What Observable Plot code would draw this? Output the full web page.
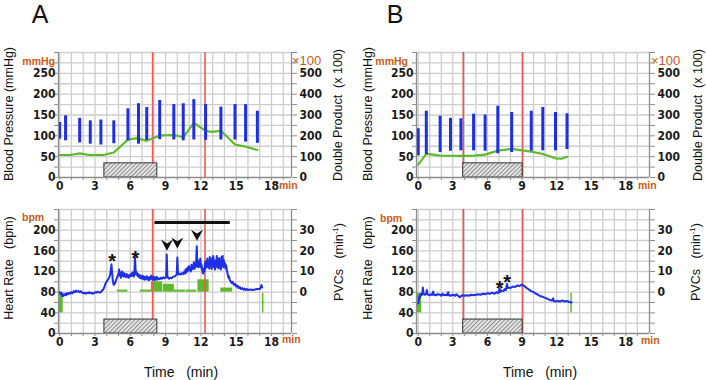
<!DOCTYPE html>
<html><head><meta charset="utf-8">
<script src="https://cdn.jsdelivr.net/npm/d3@7"></script>
<script src="https://cdn.jsdelivr.net/npm/@observablehq/plot@0.6"></script>
<style>
body{margin:0;background:#fff;}
#root{position:relative;width:706px;height:380px;overflow:hidden;background:#fff;font-family:"Liberation Sans",Arial,sans-serif;color:#111;}
.t{position:absolute;white-space:nowrap;line-height:1;}
.c{transform:translate(-50%,-50%);}
.r{transform:translate(-100%,-50%);}
.l{transform:translate(0,-50%);}
.rot{transform:translate(-50%,-50%) rotate(-90deg);font-size:12.5px;}
.unit{color:#cc5a14;font-weight:bold;font-size:10.5px;}
sup{font-size:8px;vertical-align:5px;}
</style></head>
<body>
<svg width="0" height="0" style="position:absolute"><defs>
<pattern id="hatch" patternUnits="userSpaceOnUse" width="3" height="3" patternTransform="rotate(45)">
<rect width="3" height="3" fill="#e4e4e4"/><line x1="0" y1="0" x2="0" y2="3" stroke="#555" stroke-width="1.2"/>
</pattern></defs></svg>
<div id="root">
  <div class="t c" style="left:40px;top:14px;font-size:25px;">A</div>
  <div class="t c" style="left:395px;top:14px;font-size:25px;">B</div>
  <div class="t rot" style="left:8.5px;top:114px;">Blood Pressure (mmHg)</div>
  <div class="t rot" style="left:368px;top:114px;">Blood Pressure (mmHg)</div>
  <div class="t rot" style="left:338px;top:115px;">Double Product&nbsp; (x 100)</div>
  <div class="t rot" style="left:698px;top:115px;">Double Product&nbsp; (x 100)</div>
  <div class="t rot" style="left:8.5px;top:268px;">Heart Rate&nbsp;&nbsp; (bpm)</div>
  <div class="t rot" style="left:368px;top:268px;">Heart Rate&nbsp;&nbsp; (bpm)</div>
  <div class="t rot" style="left:339px;top:262px;">PVCs&nbsp;&nbsp; (min<sup>-1</sup>)</div>
  <div class="t rot" style="left:696px;top:262px;">PVCs&nbsp;&nbsp; (min<sup>-1</sup>)</div>
  <div class="t r unit" style="left:55px;top:60.5px;">mmHg</div>
  <div class="t r unit" style="left:408px;top:60.5px;">mmHg</div>
  <div class="t l" style="left:292px;top:59.5px;color:#cc5a14;font-size:13px;">×100</div>
  <div class="t l" style="left:651px;top:59.5px;color:#cc5a14;font-size:13px;">×100</div>
  <div class="t l unit" style="left:22px;top:216.5px;">bpm</div>
  <div class="t l unit" style="left:380px;top:217.5px;">bpm</div>
  <div class="t l unit" style="left:279px;top:184.5px;">min</div>
  <div class="t l unit" style="left:638px;top:184.5px;">min</div>
  <div class="t l unit" style="left:282px;top:339px;">min</div>
  <div class="t l unit" style="left:641px;top:340px;">min</div>
  <div class="t c" style="left:181px;top:372px;font-size:14px;">Time&nbsp;&nbsp; (min)</div>
  <div class="t c" style="left:540px;top:372px;font-size:14px;">Time&nbsp;&nbsp; (min)</div>
</div>
<script>
// ---------------- DATA ----------------
// Panel A: blood pressure bars (min, systolic, diastolic)
const bpTimeA = [0, 0.5, 1.7, 2.6, 3.5, 4.6, 5.8, 6.7, 7.4, 8.5, 9.7, 10.5, 11.4, 12.4, 13.7, 14.9, 15.8, 16.8];
const sbpA    = [132, 148, 142, 136, 138, 136, 165, 177, 168, 185, 175, 177, 187, 175, 169, 175, 175, 159];
const dbpA    = [92, 88, 83, 80, 78, 81, 88, 80, 89, 91, 90, 88, 90, 89, 90, 90, 85, 82];
// Panel A: double product (x100)
const dpTimeA = [0, 0.9, 1.7, 2.5, 3.7, 4.6, 5.8, 6.6, 7.4, 8.5, 9.7, 10.5, 11.4, 12.4, 12.9, 13.7, 14.9, 15.8, 16.8];
const dpA     = [108, 108, 116, 108, 108, 120, 182, 189, 176, 202, 204, 193, 262, 224, 219, 224, 158, 148, 132];
// Panel B
const bpTimeB = [0, 0.7, 1.9, 2.8, 3.7, 4.8, 5.8, 6.9, 8.1, 9.8, 10.8, 11.9, 12.9];
const sbpB    = [117, 159, 147, 142, 141, 152, 150, 171, 156, 159, 168, 156, 153];
const dbpB    = [52, 55, 60, 63, 64, 64, 63, 57, 60, 63, 64, 64, 67];
const dpTimeB = [0, 0.7, 1.3, 1.9, 3.7, 4.8, 5.8, 6.9, 8.1, 9.8, 10.8, 11.9, 12.4, 12.9];
const dpB     = [62, 113, 110, 105, 104, 105, 110, 129, 137, 124, 113, 92, 90, 100];

// Event markers (min)
const redLinesA = [7.9, 12.35];
const redLinesB = [3.9, 9.05];
const exerciseA = [3.8, 8.3];
const exerciseB = [3.9, 9.05];
const recordEndA = 17.25;
const recordEndB = 13.25;

// Heart rate traces [min, bpm]
const hrA = [[0,80],[0.05,78],[0.1,76],[0.15,79],[0.2,74],[0.25,72],[0.3,76],[0.35,73],[0.4,75],[0.5,77],[0.55,74],[0.6,78],[0.7,76],[0.8,79],[0.9,77],[1.0,80],[1.1,78],[1.2,82],[1.3,80],[1.4,83],[1.5,81],[1.6,82],[1.7,80],[1.8,82],[1.9,79],[2.0,78],[2.1,79],[2.2,77],[2.3,79],[2.4,78],[2.5,80],[2.6,78],[2.7,79],[2.8,77],[2.9,78],[3.0,80],[3.1,79],[3.2,81],[3.3,80],[3.4,79],[3.5,80],[3.6,83],[3.7,85],[3.8,90],[3.9,97],[4.0,101],[4.1,104],[4.2,108],[4.3,115],[4.4,134],[4.45,120],[4.5,105],[4.55,98],[4.6,94],[4.7,97],[4.8,104],[4.9,110],[5.0,116],[5.05,124],[5.1,112],[5.15,118],[5.2,108],[5.25,114],[5.3,120],[5.35,112],[5.4,117],[5.45,110],[5.5,116],[5.55,111],[5.6,114],[5.65,109],[5.7,115],[5.75,110],[5.8,112],[5.85,108],[5.9,113],[5.95,110],[6.0,114],[6.05,111],[6.1,116],[6.15,112],[6.2,118],[6.25,113],[6.3,110],[6.35,120],[6.4,147],[6.45,125],[6.5,114],[6.55,118],[6.6,112],[6.65,115],[6.7,110],[6.75,114],[6.8,108],[6.85,112],[6.9,107],[6.95,111],[7.0,106],[7.05,112],[7.1,108],[7.15,105],[7.2,110],[7.25,104],[7.3,109],[7.35,106],[7.4,111],[7.45,105],[7.5,108],[7.55,103],[7.6,109],[7.65,104],[7.7,110],[7.75,106],[7.8,112],[7.85,107],[7.9,104],[7.95,110],[8.0,105],[8.05,109],[8.1,103],[8.15,108],[8.2,106],[8.25,110],[8.3,104],[8.4,107],[8.5,105],[8.6,108],[8.7,106],[8.8,109],[8.9,107],[9.0,108],[9.05,110],[9.1,153],[9.15,112],[9.2,108],[9.3,106],[9.4,108],[9.5,107],[9.6,109],[9.7,110],[9.8,111],[9.9,113],[9.95,115],[10.0,147],[10.05,118],[10.1,114],[10.2,116],[10.3,114],[10.4,117],[10.5,115],[10.6,120],[10.65,116],[10.7,124],[10.75,118],[10.8,126],[10.85,120],[10.9,128],[10.95,122],[11.0,130],[11.05,123],[11.1,127],[11.15,120],[11.2,133],[11.25,124],[11.3,130],[11.35,126],[11.4,138],[11.45,125],[11.5,134],[11.55,128],[11.6,140],[11.65,169],[11.7,130],[11.75,142],[11.8,128],[11.85,136],[11.9,130],[11.95,145],[12.0,128],[12.05,134],[12.1,124],[12.15,118],[12.2,116],[12.25,126],[12.3,120],[12.35,138],[12.4,126],[12.45,140],[12.5,128],[12.55,145],[12.6,130],[12.65,136],[12.7,126],[12.75,148],[12.8,132],[12.85,140],[12.9,125],[12.95,146],[13.0,130],[13.05,150],[13.1,128],[13.15,142],[13.2,124],[13.25,138],[13.3,132],[13.35,150],[13.4,128],[13.45,140],[13.5,126],[13.55,146],[13.6,130],[13.65,138],[13.7,124],[13.75,148],[13.8,132],[13.85,150],[13.9,128],[13.95,142],[14.0,130],[14.05,136],[14.1,126],[14.15,132],[14.2,124],[14.25,118],[14.3,112],[14.35,108],[14.4,110],[14.45,104],[14.5,102],[14.6,98],[14.7,100],[14.8,94],[14.9,96],[15.0,91],[15.1,93],[15.2,88],[15.3,90],[15.4,86],[15.5,88],[15.6,85],[15.7,87],[15.8,84],[15.9,86],[16.0,84],[16.2,85],[16.4,84],[16.6,85],[16.8,86],[17.0,86],[17.1,90],[17.15,94],[17.2,89]];
const hrB = [[0,58],[0.05,64],[0.1,72],[0.15,70],[0.2,76],[0.25,74],[0.3,78],[0.35,75],[0.4,89],[0.45,80],[0.5,76],[0.6,75],[0.7,77],[0.75,84],[0.8,76],[0.9,75],[1.0,74],[1.1,76],[1.2,75],[1.3,81],[1.35,75],[1.5,74],[1.7,76],[1.9,75],[2.0,73],[2.1,77],[2.2,74],[2.4,75],[2.5,74],[2.6,80],[2.65,74],[2.8,73],[3.0,75],[3.1,74],[3.2,73],[3.3,76],[3.4,74],[3.5,72],[3.6,70],[3.7,72],[3.8,74],[4.0,73],[4.2,74],[4.4,73],[4.6,75],[4.8,74],[5.0,75],[5.2,76],[5.4,75],[5.6,77],[5.8,76],[6.0,78],[6.2,77],[6.4,79],[6.6,77],[6.8,80],[6.9,78],[7.0,82],[7.05,88],[7.1,80],[7.2,83],[7.4,82],[7.5,86],[7.6,84],[7.7,96],[7.75,88],[7.8,89],[8.0,88],[8.2,91],[8.4,90],[8.6,93],[8.8,92],[9.0,95],[9.1,93],[9.2,92],[9.4,88],[9.6,85],[9.8,82],[10.0,80],[10.2,77],[10.4,75],[10.6,72],[10.8,71],[11.0,69],[11.2,67],[11.4,65],[11.6,64],[11.7,68],[11.75,63],[11.9,62],[12.1,63],[12.3,62],[12.5,64],[12.7,62],[12.9,63],[13.1,61],[13.3,60]];

// PVC counts (per min) over intervals
const pvcStartA = [4.9, 6.85, 7.8, 8.8, 9.75, 10.75, 11.75, 13.7];
const pvcEndA   = [5.8, 7.8, 8.75, 9.75, 10.7, 11.65, 12.7, 14.7];
const pvcA      = [1, 1, 5, 3.8, 1, 1, 6, 2];

// Annotations
const starsA  = [[4.45, 150], [6.43, 156]];
const arrowsA = [[9.12, 172], [10.0, 176], [11.67, 191]];
const starsB  = [[7.05, 99], [7.7, 110]];
const stressBarA = [{start: 8.1, end: 14.5, level: 215}];

// Ticks
const bpLabelTicks = [0, 50, 100, 150, 200, 250];
const hrLabelTicks = [0, 40, 80, 120, 160, 200];
const pvcLabelTicks = [0, 10, 20, 30];
const timeLabelTicks = [0, 3, 6, 9, 12, 15, 18];

// ---------------- DRAWING ----------------
const GRID = "#cdcdcd", AXIS = "#8c8c8c";
const BLUE = "#1e2fe6", GREEN = "#5dbb2a", RED = "#f25757";
const tickFont = {fontFamily: "'DejaVu Sans Condensed','DejaVu Sans',sans-serif", fontSize: "12px", fontWeight: "bold", fontStretch: "condensed", color: "#1a1a1a", overflow: "visible", background: "transparent"};

const arrowHead = {draw(ctx, size) {
  const r = Math.sqrt(size / Math.PI);
  ctx.moveTo(0, r); ctx.lineTo(-r, -r * 0.85); ctx.lineTo(0, -r * 0.2); ctx.lineTo(r, -r * 0.85); ctx.closePath();
}};

function axesX(xDomain) {
  return [
    Plot.ruleX([xDomain[0], xDomain[1]], {stroke: AXIS, strokeWidth: 1.3}),
    Plot.axisX(d3.range(0, 20), {tickSize: 3, tickFormat: () => "", stroke: AXIS, label: null}),
    Plot.axisX(timeLabelTicks, {tickSize: 0, tickPadding: 4, label: null})
  ];
}

function topPanel(o) {
  const bars = o.bpTime.map((t, i) => ({t, s: o.sbp[i], d: o.dbp[i]}));
  const dpl = o.dpTime.map((t, i) => ({t, v: o.dp[i]}));
  const minor = d3.range(0, 301, 25);
  return Plot.plot({
    width: 353, height: 150, marginLeft: o.ml, marginRight: 353 - o.ml - 233, marginTop: 12, marginBottom: 13,
    x: {domain: o.xDomain, axis: null}, y: {domain: [0, 300], axis: null},
    style: tickFont,
    marks: [
      Plot.gridX(d3.range(0, 20), {stroke: GRID, strokeOpacity: 1, strokeWidth: 1.3}),
      Plot.gridY(d3.range(25, 301, 25), {stroke: GRID, strokeOpacity: 1, strokeWidth: 1.3}),
      Plot.ruleX(o.red, {stroke: RED, strokeWidth: 1.6}),
      Plot.line(dpl, {x: "t", y: d => d.v / 2, stroke: GREEN, strokeWidth: 2.2}),
      Plot.ruleX(bars, {x: "t", y1: "d", y2: "s", stroke: BLUE, strokeWidth: 3}),
      Plot.rect([o.ex], {x1: d => d[0], x2: d => d[1], y1: 0, y2: 34, fill: "url(#hatch)", stroke: "#333", strokeWidth: 1}),
      Plot.ruleY([0], {stroke: AXIS, strokeWidth: 1.3}),
      ...axesX(o.xDomain),
      Plot.axisY(minor, {anchor: "left", tickSize: 4, tickFormat: () => "", stroke: AXIS, label: null}),
      Plot.axisY(bpLabelTicks, {anchor: "left", tickSize: 0, tickPadding: 3, label: null}),
      Plot.axisY(minor, {anchor: "right", tickSize: 5, tickFormat: () => "", stroke: AXIS, label: null}),
      Plot.axisY(bpLabelTicks, {anchor: "right", tickSize: 0, tickPadding: 8, tickFormat: d => String(d * 2), label: null})
    ]
  });
}

function bottomPanel(o) {
  const minor = d3.range(0, 241, 20);
  const pvc = (o.pvcStart || []).map((s, i) => ({s, e: o.pvcEnd[i], v: o.pvc[i]}));
  const hr = o.hr.map(([t, v]) => ({t, v}));
  const stars = o.stars.map(([t, v]) => ({t, v}));
  const arrows = (o.arrows || []).map(([t, v]) => ({t, v}));
  return Plot.plot({
    width: 353, height: 153, marginLeft: o.ml, marginRight: 353 - o.ml - 233, marginTop: 14, marginBottom: 15,
    x: {domain: o.xDomain, axis: null}, y: {domain: [0, 240], axis: null},
    style: tickFont,
    marks: [
      Plot.gridX(d3.range(0, 20), {stroke: GRID, strokeOpacity: 1, strokeWidth: 1.3}),
      Plot.gridY(d3.range(20, 241, 20), {stroke: GRID, strokeOpacity: 1, strokeWidth: 1.3}),
      Plot.rect(pvc, {x1: "s", x2: "e", y1: 80, y2: d => 80 + 4 * d.v, fill: GREEN}),
      Plot.rect([0], {x1: o.xDomain[0] + 0.02, x2: 0.3, y1: 40, y2: 78, fill: GREEN}),
      Plot.ruleX([o.end], {y1: 40, y2: 78, stroke: GREEN, strokeWidth: 1.5}),
      Plot.ruleX(o.red, {stroke: RED, strokeWidth: 1.6}),
      Plot.line(hr, {x: "t", y: "v", stroke: BLUE, strokeWidth: 2}),
      Plot.ruleY(o.stress || [], {y: "level", x1: "start", x2: "end", stroke: "#111", strokeWidth: 3}),
      Plot.rect([o.ex], {x1: d => d[0], x2: d => d[1], y1: 0, y2: 27, fill: "url(#hatch)", stroke: "#333", strokeWidth: 1}),
      Plot.text(stars, {x: "t", y: "v", text: () => "*", fontSize: 20, fontWeight: "bold", fontFamily: "'Liberation Sans',Arial,sans-serif", fill: "#111", dy: 6}),
      Plot.dot(arrows, {x: "t", y: "v", r: 6, symbol: arrowHead, fill: "#111", stroke: "none"}),
      Plot.ruleY([0], {stroke: AXIS, strokeWidth: 1.3}),
      ...axesX(o.xDomain),
      Plot.axisY(minor, {anchor: "left", tickSize: 4, tickFormat: () => "", stroke: AXIS, label: null}),
      Plot.axisY(hrLabelTicks, {anchor: "left", tickSize: 0, tickPadding: 3, label: null}),
      Plot.axisY(minor, {anchor: "right", tickSize: 5, tickFormat: () => "", stroke: AXIS, label: null}),
      Plot.axisY(pvcLabelTicks.map(p => 80 + 4 * p), {anchor: "right", tickSize: 0, tickPadding: 8, tickFormat: d => String((d - 80) / 4), label: null})
    ]
  });
}

const root = document.getElementById("root");
function place(el, left, top) {
  el.style.position = "absolute"; el.style.left = left + "px"; el.style.top = top + "px";
  root.appendChild(el);
}
const xDomA = [-0.1, 19.7], xDomB = [-0.15, 20.05];
place(topPanel({xDomain: xDomA, ml: 58, bpTime: bpTimeA, sbp: sbpA, dbp: dbpA, dpTime: dpTimeA, dp: dpA, red: redLinesA, ex: exerciseA}), 0, 40);
place(topPanel({xDomain: xDomB, ml: 63, bpTime: bpTimeB, sbp: sbpB, dbp: dbpB, dpTime: dpTimeB, dp: dpB, red: redLinesB, ex: exerciseB}), 353, 40);
place(bottomPanel({xDomain: xDomA, ml: 58, hr: hrA, pvcStart: pvcStartA, pvcEnd: pvcEndA, pvc: pvcA, red: redLinesA, ex: exerciseA, end: recordEndA, stars: starsA, arrows: arrowsA, stress: stressBarA}), 0, 195);
place(bottomPanel({xDomain: xDomB, ml: 63, hr: hrB, red: redLinesB, ex: exerciseB, end: recordEndB, stars: starsB}), 353, 195);
</script>
</body></html>
